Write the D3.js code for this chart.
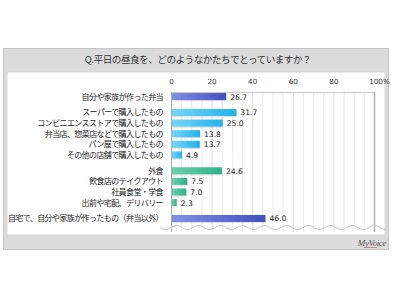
<!DOCTYPE html>
<html>
<head>
<meta charset="utf-8">
<script src="https://cdn.jsdelivr.net/npm/d3@7"></script>
<style>
  html, body { margin: 0; padding: 0; background: #fff; }
  text { font-family: "Noto Sans CJK JP", "DejaVu Sans", sans-serif; }
</style>
</head>
<body>
<div class="chart"></div>
<script>
// data
const categories = [
	'自分や家族が作った弁当',
	'スーパーで購入したもの',
	'コンビニエンスストアで購入したもの',
	'弁当店、惣菜店などで購入したもの',
	'パン屋で購入したもの',
	'その他の店舗で購入したもの',
	'外食',
	'飲食店のテイクアウト',
	'社員食堂・学食',
	'出前や宅配、デリバリー',
	'自宅で、自分や家族が作ったもの（弁当以外）'
];
const values = [26.7, 31.7, 25.0, 13.8, 13.7, 4.9, 24.6, 7.5, 7.0, 2.3, 46.0];
// block each row belongs to (a half row gap between blocks)
const groups = [0, 1, 1, 1, 1, 1, 2, 2, 2, 2, 3];
const colorKeys = ['home', 'shop', 'shop', 'shop', 'shop', 'shop', 'eat', 'eat', 'eat', 'eat', 'home'];
const tickValues = [0, 20, 40, 60, 80, 100];
const title = 'Q.平日の昼食を、どのようなかたちでとっていますか？';

const W = 400, H = 300;
const plot = { left: 171, right: 374, top: 92, bottom: 228 };

const svg = d3.select('.chart')
	.append('svg')
		.attr('width', W)
		.attr('height', H);

// gradients
const defs = svg.append('defs');
const palette = {
	home: ['#8190e6', '#3f50c0'],
	shop: ['#74d6f7', '#22b2ec'],
	eat: ['#6ccfac', '#2fb28a']
};
Object.keys(palette).forEach(k => {
	const g = defs.append('linearGradient')
		.attr('id', 'grad-' + k)
		.attr('x1', 0).attr('x2', 1).attr('y1', 0).attr('y2', 0);
	g.append('stop').attr('offset', '0%').attr('stop-color', palette[k][0]);
	g.append('stop').attr('offset', '100%').attr('stop-color', palette[k][1]);
});

// frame
svg.append('rect')
	.attr('x', 3.5).attr('y', 48.5)
	.attr('width', 385).attr('height', 201)
	.attr('fill', '#dcdcdc')
	.attr('stroke', '#c4c4c4');

svg.append('rect')
	.attr('x', 7).attr('y', 72)
	.attr('width', 378).attr('height', 163)
	.attr('fill', '#fff')
	.attr('stroke', '#cfcfcf')
	.attr('stroke-width', 0.8);

svg.append('text')
	.attr('x', 198).attr('y', 63)
	.attr('text-anchor', 'middle')
	.style('font-size', '9.6px')
	.style('letter-spacing', '-0.5px')
	.attr('fill', '#333')
	.text(title);

// scales
const xScale = d3.scaleLinear()
	.domain([0, 100])
	.range([plot.left, plot.right]);

const slot = (d, i) => i + 0.5 * groups[i];
const yScale = d3.scaleLinear()
	.domain([-0.43, 12.4])
	.range([plot.top, plot.bottom]);
const barH = 7;

// grid
svg.append('g')
	.selectAll('line')
	.data(d3.range(5, 100, 5))
	.enter()
	.append('line')
		.attr('x1', d => xScale(d) + 0.5)
		.attr('x2', d => xScale(d) + 0.5)
		.attr('y1', plot.top)
		.attr('y2', plot.bottom + 4)
		.attr('stroke', d => d % 20 === 0 ? '#dcdcdc' : '#ececec');

svg.append('line')
	.attr('x1', plot.left).attr('x2', plot.right)
	.attr('y1', plot.top + 0.5).attr('y2', plot.top + 0.5)
	.attr('stroke', '#c8c8c8');

svg.append('line')
	.attr('x1', xScale(100) + 0.5).attr('x2', xScale(100) + 0.5)
	.attr('y1', plot.top).attr('y2', plot.bottom + 4)
	.attr('stroke', '#b4b4b4')
	.attr('stroke-width', 1.6);

svg.append('line')
	.attr('x1', xScale(0) + 0.5).attr('x2', xScale(0) + 0.5)
	.attr('y1', plot.top).attr('y2', plot.bottom + 4)
	.attr('stroke', '#a8a8a8');

// wavy cut at the bottom
const wave = d3.range(160, 386, 1).map(x => [x, plot.bottom - 0.5 + 2 * Math.sin((x - 160) / 22 * 2 * Math.PI)]);
svg.append('path')
	.attr('d', d3.line()(wave))
	.attr('fill', 'none')
	.attr('stroke', '#c4c4c4')
	.attr('stroke-width', 0.9);

// top axis
const xAxis = d3.axisTop(xScale)
	.tickValues(tickValues)
	.tickSize(0)
	.tickFormat(d => d === 100 ? '100%' : d);
const ax = svg.append('g')
	.attr('transform', `translate(0, ${plot.top - 5})`)
	.call(xAxis);
ax.select('.domain').remove();
ax.selectAll('text')
	.style('font-family', '"DejaVu Sans", sans-serif')
	.style('font-size', '7.2px')
	.attr('fill', '#333')
	.attr('dx', d => d === 100 ? 5 : 0);

// bars
const rows = svg.append('g')
	.selectAll('.row')
	.data(values)
	.enter()
	.append('g')
	.attr('class', 'row')
	.attr('transform', (d, i) => `translate(0, ${yScale(slot(d, i))})`);

rows.append('rect')
	.attr('x', xScale(0) + 1.5)
	.attr('y', -barH / 2 + 1.2)
	.attr('width', d => xScale(d) - xScale(0))
	.attr('height', barH)
	.attr('fill', '#bbb')
	.attr('opacity', 0.45);

rows.append('rect')
	.attr('x', xScale(0) + 1)
	.attr('y', -barH / 2)
	.attr('width', d => xScale(d) - xScale(0))
	.attr('height', barH)
	.attr('fill', (d, i) => `url(#grad-${colorKeys[i]})`);

rows.append('text')
	.attr('x', d => xScale(d) + 5)
	.attr('y', 3)
	.style('font-family', '"DejaVu Sans", sans-serif')
	.style('font-size', '7.6px')
	.attr('fill', '#222')
	.text(d => d.toFixed(1));

rows.append('text')
	.attr('x', 163)
	.attr('y', 3)
	.attr('text-anchor', 'end')
	.style('font-size', '8px')
	.style('letter-spacing', '-0.6px')
	.attr('fill', '#222')
	.text((d, i) => categories[i]);

// logo
const logo = svg.append('text')
	.attr('x', 386).attr('y', 246)
	.attr('text-anchor', 'end')
	.style('font-family', '"Liberation Serif", serif')
	.style('font-style', 'italic')
	.style('font-size', '9px')
	.style('letter-spacing', '-0.4px')
	.attr('fill', '#555')
	.text('MyVoice');
svg.append('line')
	.attr('x1', 366).attr('x2', 377)
	.attr('y1', 247.5).attr('y2', 247.5)
	.attr('stroke', '#d04040')
	.attr('stroke-width', 0.6);
</script>
</body>
</html>
